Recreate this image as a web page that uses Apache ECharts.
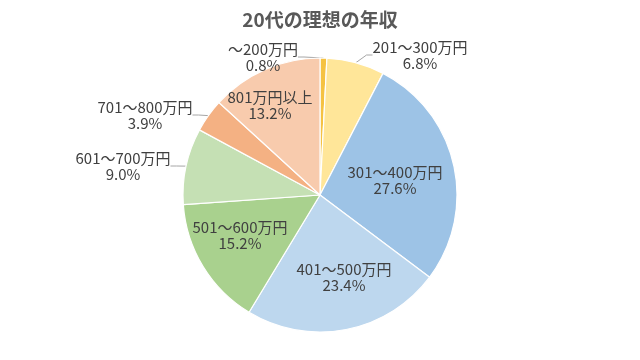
<!DOCTYPE html>
<html><head><meta charset="utf-8">
<script src="https://cdn.jsdelivr.net/npm/echarts@6/dist/echarts.min.js"></script>
<style>html,body{margin:0;padding:0;background:#fff}#c{width:640px;height:360px}</style>
</head><body><div id="c"></div>
<script>
const categories = ['～200万円','201～300万円','301～400万円','401～500万円','501～600万円','601～700万円','701～800万円','801万円以上'];
const values = [0.8, 6.8, 27.6, 23.4, 15.2, 9.0, 3.9, 13.2];
const colors = ['#F5C242','#FFE699','#9DC3E6','#BDD7EE','#A9D18E','#C5E0B4','#F4B183','#F8CBAD'];
const labelPlace = ['outside','outside','inside','inside','inside','outside','outside','inside'];
// label centre offsets from the pie centre (text placement only)
const labelOffsets = [[-57,-138],[100,-140],[75,-15],[24,82],[-80,40],[-197,-29],[-175,-80],[-50,-90]];

const CX = 320, CY = 195, R = 137;
const chart = echarts.init(document.getElementById('c'));
const font = '"Noto Sans CJK JP", "Noto Sans", sans-serif';
chart.setOption({
  backgroundColor: '#fff',
  animation: false,
  title: {text: '20代の理想の年収', left: 'center', top: 5,
    textStyle: {fontFamily: font, fontSize: 19, fontWeight: 'bold', color: '#595959'}},
  series: [{
    type: 'pie',
    center: [CX, CY],
    radius: R,
    startAngle: 90,
    clockwise: true,
    itemStyle: {borderColor: '#fff', borderWidth: 1.2},
    label: {fontFamily: font, fontSize: 15, color: '#404040', lineHeight: 16, align: 'center',
      formatter: p => p.name + '\n' + p.value.toFixed(1) + '%'},
    labelLine: {length: 10, length2: 6, lineStyle: {color: '#A6A6A6', width: 1}},
    labelLayout: p => ({
      x: CX + labelOffsets[p.dataIndex][0],
      y: CY + labelOffsets[p.dataIndex][1],
      align: 'center', verticalAlign: 'middle'
    }),
    data: categories.map((n, i) => ({
      name: n, value: values[i],
      itemStyle: {color: colors[i]},
      label: {position: labelPlace[i]},
      labelLine: {show: labelPlace[i] === 'outside'}
    }))
  }]
});
</script></body></html>
